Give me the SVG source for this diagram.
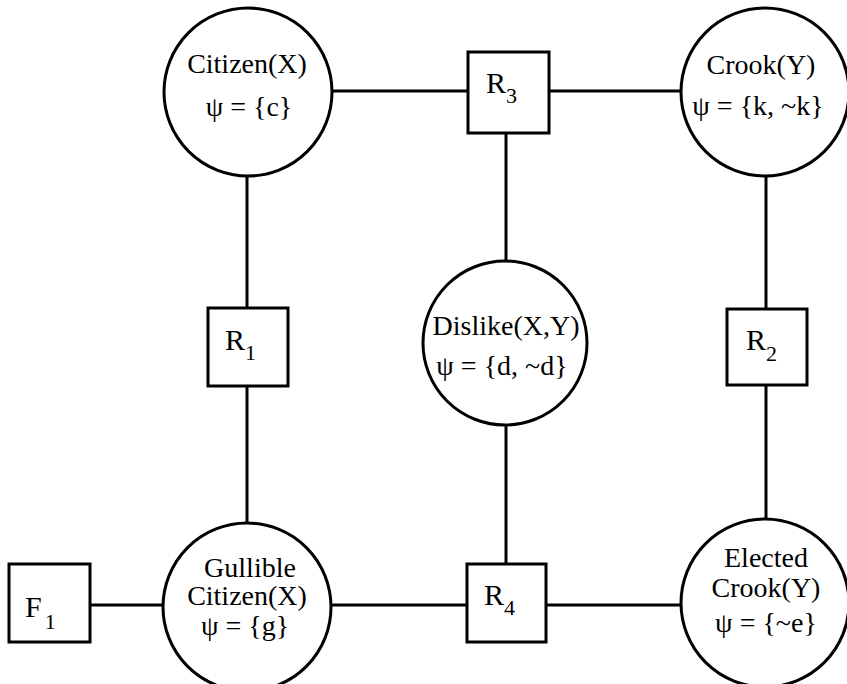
<svg xmlns="http://www.w3.org/2000/svg" width="847" height="684" viewBox="0 0 847 684">
<style>
.n{fill:#fff;stroke:#000;stroke-width:3}
.c line{stroke:#000;stroke-width:3}
text{font-family:"Liberation Serif","Times New Roman",serif;fill:#000}
.t{font-size:28px;text-anchor:middle}
.b{font-size:30px}
.s{font-size:22px}
</style>
<rect width="847" height="684" fill="#fff"/>
<g id="connectors" class="c">
<line x1="330" y1="91" x2="468" y2="91"/>
<line x1="549" y1="91" x2="684" y2="91"/>
<line x1="506" y1="133" x2="506" y2="262"/>
<line x1="247" y1="175" x2="247" y2="308"/>
<line x1="247" y1="386" x2="247" y2="525"/>
<line x1="766" y1="175" x2="766" y2="309"/>
<line x1="766" y1="385" x2="766" y2="522"/>
<line x1="506" y1="424" x2="506" y2="564"/>
<line x1="90" y1="605" x2="165" y2="605"/>
<line x1="330" y1="605" x2="467" y2="605"/>
<line x1="546" y1="605" x2="684" y2="605"/>
</g>
<g id="citizen">
<circle class="n" cx="248" cy="92" r="84"/>
<text class="t" x="247" y="73">Citizen(X)</text>
<text class="t" x="249" y="116">ψ = {c}</text>
</g>
<g id="crook">
<circle class="n" cx="765" cy="92" r="84"/>
<text class="t" x="761" y="74">Crook(Y)</text>
<text class="t" x="758" y="115">ψ = {k, ~k}</text>
</g>
<g id="dislike">
<circle class="n" cx="505" cy="343" r="82"/>
<text class="t" x="506" y="335">Dislike(X,Y)</text>
<text class="t" x="502" y="375">ψ = {d, ~d}</text>
</g>
<g id="gullible">
<circle class="n" cx="247" cy="607" r="84"/>
<text class="t" x="250" y="577">Gullible</text>
<text class="t" x="247" y="605">Citizen(X)</text>
<text class="t" x="245" y="635">ψ = {g}</text>
</g>
<g id="elected">
<circle class="n" cx="765" cy="603" r="84"/>
<text class="t" x="766" y="567">Elected</text>
<text class="t" x="766" y="597">Crook(Y)</text>
<text class="t" x="766" y="632">ψ = {~e}</text>
</g>
<g id="R3">
<rect class="n" x="468" y="52" width="81" height="81"/>
<text class="b" x="486" y="93">R<tspan class="s" dy="10">3</tspan></text>
</g>
<g id="R1">
<rect class="n" x="208" y="308" width="80" height="78"/>
<text class="b" x="225" y="350">R<tspan class="s" dy="10">1</tspan></text>
</g>
<g id="R2">
<rect class="n" x="727" y="309" width="80" height="76"/>
<text class="b" x="746" y="350">R<tspan class="s" dy="11">2</tspan></text>
</g>
<g id="R4">
<rect class="n" x="467" y="564" width="79" height="78"/>
<text class="b" x="484" y="605">R<tspan class="s" dy="10">4</tspan></text>
</g>
<g id="F1">
<rect class="n" x="9" y="564" width="81" height="78"/>
<text class="b" x="25" y="617">F<tspan class="s" dx="3" dy="12">1</tspan></text>
</g>
</svg>
